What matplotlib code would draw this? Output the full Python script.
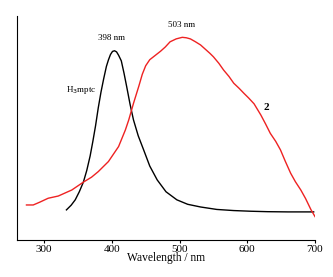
import matplotlib
matplotlib.use("Agg")
import matplotlib.pyplot as plt

# emission spectra, intensity in arbitrary units
wl_ligand = [333, 340, 346, 352, 358, 363, 368, 372, 376, 380, 384, 388, 392, 395, 398, 401, 404, 407, 410, 414, 418, 422, 427, 432, 439, 447, 456, 467, 480, 496, 512, 531, 555, 580, 605, 630, 660, 698]
int_ligand = [13.4, 15.5, 17.9, 21.5, 25.8, 31.0, 37.5, 44.0, 51.0, 59.0, 66.0, 72.0, 77.5, 80.4, 82.8, 84.2, 84.5, 84.0, 82.5, 80.0, 74.5, 68.4, 60.5, 53.6, 46.5, 40.2, 33.0, 26.8, 21.5, 17.9, 15.9, 14.7, 13.6, 13.1, 12.8, 12.6, 12.5, 12.5]

wl_complex = [274, 284, 294, 306, 321, 341, 358, 370, 380, 395, 410, 420, 425, 432, 440, 445, 450, 456, 464, 472, 479, 486, 495, 504, 510, 516, 523, 531, 538, 545, 550, 558, 565, 573, 580, 588, 595, 602, 610, 620, 627, 634, 642, 649, 656, 664, 671, 679, 686, 694, 700]
int_complex = [15.6, 15.6, 16.9, 18.6, 19.6, 22.3, 25.8, 28.0, 30.5, 35.0, 41.7, 49.1, 53.6, 61.0, 68.8, 74.0, 77.8, 80.5, 82.4, 84.3, 86.2, 88.5, 89.8, 90.5, 90.3, 89.8, 88.6, 87.1, 85.2, 83.3, 81.8, 78.9, 75.9, 73.0, 70.0, 67.7, 65.5, 63.4, 60.8, 55.8, 51.8, 47.6, 44.0, 40.2, 35.2, 29.8, 26.0, 22.3, 18.5, 13.5, 10.4]

plt.rcParams['font.family'] = ['Liberation Serif', 'DejaVu Serif']

fig = plt.figure(figsize=(3.33, 2.77), dpi=100)
ax = fig.add_axes([0.051, 0.134, 0.895, 0.808])

ax.plot(wl_ligand, int_ligand, color="black", lw=1.0)
ax.plot(wl_complex, int_complex, color="#ee2222", lw=1.0)

ax.text(400, 88.5, "398 nm", ha="center", va="bottom", fontsize=6.5)
ax.text(503, 94, "503 nm", ha="center", va="bottom", fontsize=6.5)
ax.text(355, 67, r"H$_3$mptc", ha="center", va="center", fontsize=6.5)
ax.text(628, 59, "2", ha="center", va="center", fontsize=8, fontweight="bold")

ax.set_xlim(260, 700)
ax.set_ylim(0, 100)
ax.set_xticks([300, 400, 500, 600, 700])
ax.set_yticks([])
ax.tick_params(axis="x", direction="out", length=2.5, width=0.8, labelsize=8, pad=1)
ax.set_xlabel("Wavelength / nm", fontsize=8.3, labelpad=-1)
ax.spines["top"].set_visible(False)
ax.spines["right"].set_visible(False)
ax.spines["left"].set_linewidth(0.8)
ax.spines["bottom"].set_linewidth(0.8)

fig.savefig("out.png", dpi=100)
